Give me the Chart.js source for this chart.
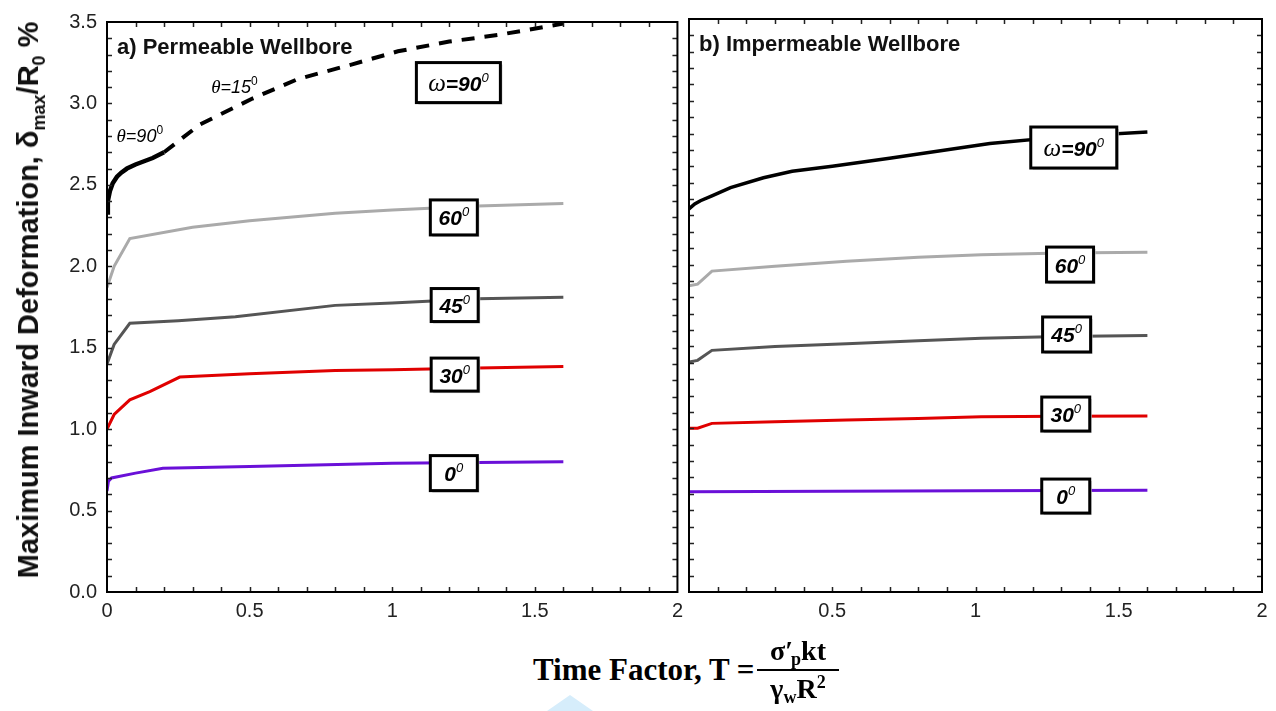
<!DOCTYPE html>
<html>
<head>
<meta charset="utf-8">
<script src="https://cdn.jsdelivr.net/npm/chart.js@4.4.0/dist/chart.umd.min.js"></script>
<style>
  body { margin:0; background:#fff; width:1276px; height:711px; overflow:hidden; position:relative; font-family:"Liberation Sans", Arial, sans-serif; }
  .panel { position:absolute; top:0; height:650px; }
  #left { left:0; width:690px; }
  #right { left:680px; width:596px; }
  #ytitle { position:absolute; left:31px; top:300px; transform:translate(-50%,-50%) rotate(-90deg); white-space:nowrap; font-weight:bold; font-size:29px; color:#111; }
  #ytitle sub { font-size:18px; vertical-align:-7px; }
  #xtitle { position:absolute; left:533px; top:655px; font-family:"Liberation Serif", serif; font-weight:bold; font-size:31px; line-height:30px; white-space:nowrap; }
  #frac { position:absolute; left:757px; top:636px; width:82px; font-family:"Liberation Serif", serif; font-weight:bold; font-size:28px; text-align:center; }
  #frac .num { line-height:30px; border-bottom:2px solid #000; padding-bottom:3px; }
  #frac .den { line-height:26px; padding-top:5px; }
  #frac sub { font-size:18px; vertical-align:-5px; line-height:0; }
  #frac sup { font-size:18px; vertical-align:10px; line-height:0; }
  #mark { position:absolute; left:547px; top:695px; width:46px; height:16px; background:#d6edfb; clip-path:polygon(50% 0, 100% 100%, 0 100%); }
</style>
</head>
<body>
<div class="panel" id="left"><canvas id="chartA"></canvas></div>
<div class="panel" id="right"><canvas id="chartB"></canvas></div>
<div id="ytitle">Maximum Inward Deformation, δ<sub>max</sub>/R<sub>0</sub> %</div>
<div id="mark"></div>
<div id="xtitle">Time Factor, T =</div>
<div id="frac"><div class="num">σ′<sub style="margin-left:-2px">p</sub>kt</div><div class="den">γ<sub>w</sub>R<sup>2</sup></div></div>
<script>
// a) permeable wellbore
const tA90 = [0, 0.003, 0.01, 0.02, 0.035, 0.05, 0.07, 0.1, 0.13, 0.16, 0.2];
const vA90 = [2.33, 2.40, 2.46, 2.51, 2.55, 2.575, 2.60, 2.625, 2.645, 2.665, 2.70];
const tA90d = [0.2, 0.325, 0.51, 0.67, 0.86, 1.02, 1.2, 1.37, 1.6];
const vA90d = [2.70, 2.87, 3.03, 3.15, 3.24, 3.32, 3.38, 3.42, 3.49];
const tA60 = [0, 0.025, 0.08, 0.3, 0.5, 0.8, 1.0, 1.3, 1.6];
const vA60 = [1.87, 2.0, 2.17, 2.24, 2.28, 2.325, 2.345, 2.37, 2.385];
const tA45 = [0, 0.025, 0.08, 0.25, 0.45, 0.8, 1.0, 1.3, 1.6];
const vA45 = [1.40, 1.52, 1.65, 1.665, 1.69, 1.76, 1.775, 1.80, 1.81];
const tA30 = [0, 0.025, 0.08, 0.15, 0.255, 0.5, 0.8, 1.0, 1.3, 1.6];
const vA30 = [1.0, 1.09, 1.18, 1.23, 1.32, 1.34, 1.36, 1.365, 1.375, 1.385];
const tA0 = [0, 0.005, 0.016, 0.1, 0.196, 0.5, 1.0, 1.6];
const vA0 = [0.62, 0.68, 0.70, 0.73, 0.76, 0.77, 0.79, 0.80];

// b) impermeable wellbore
const tB90 = [0, 0.02, 0.04, 0.08, 0.145, 0.26, 0.36, 0.5, 0.7, 1.05, 1.3, 1.6];
const vB90 = [2.34, 2.37, 2.39, 2.42, 2.47, 2.53, 2.57, 2.60, 2.65, 2.74, 2.78, 2.81];
const tB = [0, 0.03, 0.08, 0.3, 0.55, 0.8, 1.02, 1.3, 1.6];
const vB60 = [1.87, 1.88, 1.96, 1.99, 2.02, 2.045, 2.06, 2.07, 2.075];
const vB45 = [1.404, 1.415, 1.476, 1.50, 1.516, 1.535, 1.55, 1.56, 1.567];
const vB30 = [1.0, 1.0, 1.03, 1.04, 1.05, 1.06, 1.07, 1.073, 1.075];
const tB0 = [0, 0.5, 1.0, 1.6];
const vB0 = [0.612, 0.615, 0.618, 0.622];

const xTicks = [0, 0.5, 1, 1.5, 2];
const yTicks = [0, 0.5, 1, 1.5, 2, 2.5, 3, 3.5];

const pts = (ts, vs) => ts.map((t, i) => ({x: t, y: vs[i]}));
const line = (data, color, w, dash) => ({data, borderColor: color, borderWidth: w, borderDash: dash || [], pointRadius: 0, fill: false, tension: 0});

const SANS = '"Liberation Sans", Arial, sans-serif';
const SERIF = '"Liberation Serif", "Times New Roman", serif';
const deg = s => [{t: s, f: 'bold italic 21px ' + SANS}, {t: '0', f: 'italic 13px ' + SANS, dy: -9}];
const omega = [{t: 'ω', f: 'italic 25px ' + SERIF}, {t: '=90', f: 'bold italic 21px ' + SANS}, {t: '0', f: 'italic 13px ' + SANS, dy: -9}];
const theta = s => [{t: 'θ', f: 'italic 19px ' + SERIF}, {t: '=' + s, f: 'italic 18px ' + SANS}, {t: '0', f: '12px ' + SANS, dy: -8}];

function drawRuns(ctx, runs, cx, base) {
  let w = 0;
  runs.forEach(r => { ctx.font = r.f; w += ctx.measureText(r.t).width; });
  let x = cx - w / 2;
  ctx.textAlign = 'left';
  ctx.textBaseline = 'alphabetic';
  ctx.fillStyle = '#000';
  runs.forEach(r => {
    ctx.font = r.f;
    ctx.fillText(r.t, x, base + (r.dy || 0));
    x += ctx.measureText(r.t).width;
  });
}

const frameTicks = {
  id: 'frameTicks',
  afterDatasetsDraw(chart) {
    const {ctx, chartArea: a, scales: {x, y}} = chart;
    ctx.save();
    ctx.strokeStyle = '#222';
    ctx.lineWidth = 1.5;
    ctx.beginPath();
    for (let i = 1; i < 20; i++) {
      const px = Math.round(x.getPixelForValue(i / 10)) + 0.5;
      ctx.moveTo(px, a.bottom); ctx.lineTo(px, a.bottom - 5);
      ctx.moveTo(px, a.top); ctx.lineTo(px, a.top + 5);
    }
    for (let i = 1; i < 35; i++) {
      const py = Math.round(y.getPixelForValue(i / 10)) + 0.5;
      ctx.moveTo(a.left, py); ctx.lineTo(a.left + 5, py);
      ctx.moveTo(a.right, py); ctx.lineTo(a.right - 5, py);
    }
    ctx.stroke();
    ctx.strokeStyle = '#000';
    ctx.lineWidth = 2;
    ctx.strokeRect(a.left, a.top, a.right - a.left, a.bottom - a.top);
    ctx.restore();
  }
};

const boxLabels = {
  id: 'boxLabels',
  afterDatasetsDraw(chart, args, opts) {
    const {ctx, chartArea: a, scales: {x, y}} = chart;
    ctx.save();
    ctx.fillStyle = '#111';
    ctx.font = 'bold 22px ' + SANS;
    ctx.textBaseline = 'alphabetic';
    ctx.fillText(opts.title, a.left + 10, a.top + 32);
    opts.boxes.forEach(b => {
      const cx = x.getPixelForValue(b.x), cy = y.getPixelForValue(b.y);
      const l = cx - b.w / 2, t = cy - b.h / 2;
      ctx.fillStyle = '#c8c8c8';
      ctx.fillRect(l + 2, t + 2, b.w, b.h);
      ctx.fillStyle = '#fff';
      ctx.fillRect(l, t, b.w, b.h);
      ctx.lineWidth = 3;
      ctx.strokeStyle = '#000';
      ctx.strokeRect(l, t, b.w, b.h);
      drawRuns(ctx, b.runs, cx, cy + 8);
    });
    opts.notes.forEach(n => drawRuns(ctx, n.runs, x.getPixelForValue(n.x), y.getPixelForValue(n.y) + 6));
    ctx.restore();
  }
};

function makeChart(id, datasets, opts) {
  return new Chart(document.getElementById(id), {
    type: 'line',
    data: {datasets},
    options: {
      responsive: true,
      maintainAspectRatio: false,
      devicePixelRatio: 1,
      animation: false,
      layout: {padding: opts.padding},
      plugins: {legend: {display: false}, tooltip: {enabled: false}, boxLabels: opts.labels},
      scales: {
        x: {
          type: 'linear', min: 0, max: 2,
          afterBuildTicks: s => { s.ticks = xTicks.map(v => ({value: v})); },
          ticks: {
            color: '#222', font: {size: 20, family: SANS}, padding: 7, maxRotation: 0, autoSkip: false,
            callback: v => (opts.hideZero && v === 0) ? '' : String(v)
          },
          grid: {display: false, drawTicks: false},
          border: {display: false},
          afterFit: s => { s.height = 58; }
        },
        y: {
          type: 'linear', min: 0, max: 3.5,
          afterBuildTicks: s => { s.ticks = yTicks.map(v => ({value: v})); },
          ticks: {display: opts.yLabels, color: '#222', font: {size: 20, family: SANS}, padding: 10, callback: v => v.toFixed(1)},
          grid: {display: false, drawTicks: false},
          border: {display: false},
          afterFit: s => { s.width = opts.yWidth; }
        }
      }
    },
    plugins: [frameTicks, boxLabels]
  });
}

makeChart('chartA', [
  line(pts(tA0, vA0), '#6a10d8', 3),
  line(pts(tA30, vA30), '#e00000', 3),
  line(pts(tA45, vA45), '#555555', 3),
  line(pts(tA60, vA60), '#aaaaaa', 3),
  line(pts(tA90, vA90), '#000000', 4.5),
  line(pts(tA90d, vA90d), '#000000', 4, [13, 10])
], {
  padding: {top: 19, right: 10, left: 0, bottom: 0},
  yWidth: 107, yLabels: true, hideZero: false,
  labels: {
    title: 'a) Permeable Wellbore',
    boxes: [
      {x: 1.232, y: 3.128, w: 84, h: 40, runs: omega},
      {x: 1.216, y: 2.30, w: 47, h: 35, runs: deg('60')},
      {x: 1.219, y: 1.762, w: 47, h: 33, runs: deg('45')},
      {x: 1.219, y: 1.335, w: 47, h: 33, runs: deg('30')},
      {x: 1.216, y: 0.73, w: 47, h: 35, runs: deg('0')}
    ],
    notes: [
      {x: 0.115, y: 2.80, runs: theta('90')},
      {x: 0.447, y: 3.10, runs: theta('15')}
    ]
  }
});

makeChart('chartB', [
  line(pts(tB0, vB0), '#6a10d8', 3),
  line(pts(tB, vB30), '#e00000', 3),
  line(pts(tB, vB45), '#555555', 3),
  line(pts(tB, vB60), '#aaaaaa', 3),
  line(pts(tB90, vB90), '#000000', 3.5)
], {
  padding: {top: 19, right: 14, left: 9, bottom: 0},
  yWidth: 0, yLabels: false, hideZero: true,
  labels: {
    title: 'b) Impermeable Wellbore',
    boxes: [
      {x: 1.343, y: 2.715, w: 86, h: 41, runs: omega},
      {x: 1.33, y: 2.00, w: 47, h: 35, runs: deg('60')},
      {x: 1.318, y: 1.573, w: 48, h: 35, runs: deg('45')},
      {x: 1.315, y: 1.087, w: 48, h: 34, runs: deg('30')},
      {x: 1.315, y: 0.586, w: 48, h: 34, runs: deg('0')}
    ],
    notes: []
  }
});
</script>
</body>
</html>
